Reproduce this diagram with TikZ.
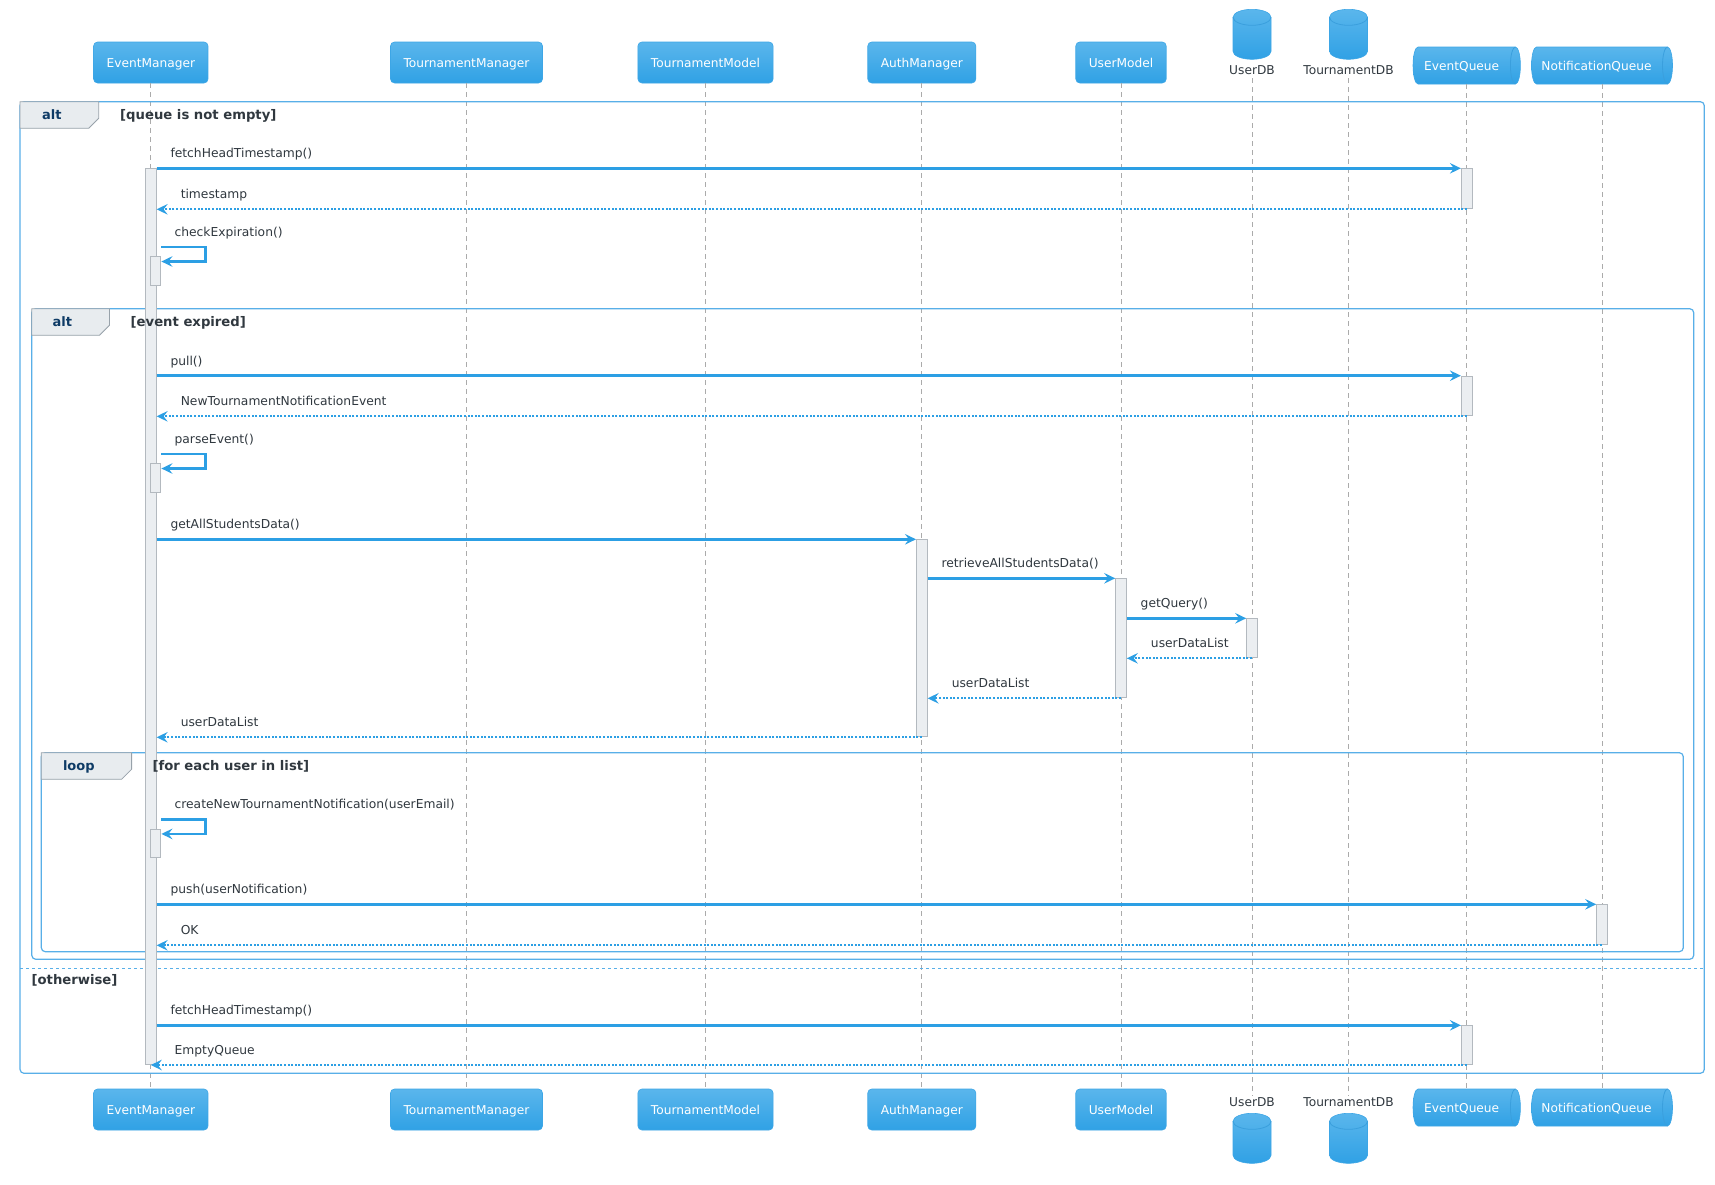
\documentclass[tikz,border=0pt]{standalone}
\usepackage{fontspec}
\setmainfont{DejaVu Sans}
\usetikzlibrary{arrows.meta,calc}
\definecolor{arrowc}{HTML}{2C9FE4}
\definecolor{framec}{HTML}{58AFE8}
\definecolor{parttop}{HTML}{5AB6EC}
\definecolor{partbot}{HTML}{30A1E5}
\definecolor{partborder}{HTML}{3DA6E6}
\definecolor{dbarc}{HTML}{3A9FDD}
\definecolor{actfill}{HTML}{EBEEF1}
\definecolor{actdraw}{HTML}{B3B9BF}
\definecolor{tabfill}{HTML}{E8ECEF}
\definecolor{tabdraw}{HTML}{98A2AA}
\definecolor{lifec}{HTML}{ABABAB}
\definecolor{txt}{HTML}{30383F}
\definecolor{kw}{HTML}{0E3B66}
\newcommand\dbicon[2]{%
  \path[top color=parttop,bottom color=partbot,draw=partborder,line width=0.6pt]
   (#1-19,#2+8) .. controls (#1-19,#2+3.58) and (#1-10.49,#2) .. (#1,#2)
   .. controls (#1+10.49,#2) and (#1+19,#2+3.58) .. (#1+19,#2+8)
   -- (#1+19,#2+42) .. controls (#1+19,#2+46.42) and (#1+10.49,#2+50) .. (#1,#2+50)
   .. controls (#1-10.49,#2+50) and (#1-19,#2+46.42) .. (#1-19,#2+42) -- cycle;
  \draw[dbarc,line width=0.8pt] (#1-19,#2+8) .. controls (#1-19,#2+12.42) and (#1-10.49,#2+16) .. (#1,#2+16)
   .. controls (#1+10.49,#2+16) and (#1+19,#2+12.42) .. (#1+19,#2+8);
}
\newcommand\queueicon[3]{%
  \path[top color=parttop,bottom color=partbot,draw=partborder,line width=0.6pt]
   (#1-#3/2+5,#2-18.5) -- (#1+#3/2-5,#2-18.5)
   .. controls (#1+#3/2-2.24,#2-18.5) and (#1+#3/2,#2-10.22) .. (#1+#3/2,#2)
   .. controls (#1+#3/2,#2+10.22) and (#1+#3/2-2.24,#2+18.5) .. (#1+#3/2-5,#2+18.5)
   -- (#1-#3/2+5,#2+18.5)
   .. controls (#1-#3/2+2.24,#2+18.5) and (#1-#3/2,#2+10.22) .. (#1-#3/2,#2)
   .. controls (#1-#3/2,#2-10.22) and (#1-#3/2+2.24,#2-18.5) .. (#1-#3/2+5,#2-18.5) -- cycle;
  \draw[dbarc,line width=0.8pt] (#1+#3/2-5,#2-18.5)
   .. controls (#1+#3/2-7.76,#2-18.5) and (#1+#3/2-10,#2-10.22) .. (#1+#3/2-10,#2)
   .. controls (#1+#3/2-10,#2+10.22) and (#1+#3/2-7.76,#2+18.5) .. (#1+#3/2-5,#2+18.5);
}
\newcommand\fragtab[4]{\filldraw[tabst] (#1,#2) -- (#3,#2) -- (#3,#4-10) -- (#3-10,#4) -- (#1,#4) -- cycle;}
\begin{document}
\begin{tikzpicture}[x=1pt,y=-1pt,
  partbox/.style={rectangle,rounded corners=4pt,top color=parttop,bottom color=partbot,draw=partborder,line width=0.6pt,text=white,font=\fontsize{12.2}{14}\selectfont,inner xsep=13pt,inner ysep=0pt,minimum height=41pt,text height=9.4pt,text depth=0pt},
  qlab/.style={rectangle,text=white,font=\fontsize{12.2}{14}\selectfont,inner sep=0pt,minimum height=37pt,text height=9.4pt,text depth=0pt},
  dblab/.style={text=txt,font=\fontsize{12.2}{14}\selectfont,inner sep=1pt,text height=9pt,text depth=2.4pt},
  life/.style={draw=lifec,line width=1pt,dash pattern=on 5pt off 4pt},
  act/.style={rectangle,fill=actfill,draw=actdraw,line width=1pt,minimum width=10.6pt,inner sep=0pt,anchor=north},
  msg/.style={draw=arrowc,line width=2.6pt,-{Stealth[length=11pt,width=10.5pt,inset=4pt]}},
  ret/.style={draw=arrowc,line width=2.3pt,dash pattern=on 2pt off 1.6pt,-{Stealth[length=11pt,width=10.5pt,inset=4pt]}},
  mlab/.style={anchor=base west,inner sep=0pt,text=txt,font=\fontsize{12.3}{14}\selectfont,yshift=10.5pt},
  fragframe/.style={draw=framec,line width=1.2pt,rounded corners=4pt},
  tabst/.style={fill=tabfill,draw=tabdraw,line width=0.8pt},
  kwlab/.style={anchor=base west,inner sep=0pt,text=kw,font=\fontsize{13}{15}\selectfont\bfseries},
  guard/.style={anchor=base west,inner sep=0pt,text=txt,font=\fontsize{13.2}{15}\selectfont\bfseries},
  altsep/.style={draw=framec,line width=1pt,dash pattern=on 3pt off 3pt},
]
\fill[white] (0,0) rectangle (1715,1184);
\useasboundingbox (0,0) rectangle (1715,1184);

% ---------- participants (top) ----------
\node[partbox] (pEM) at (150.8,62.5) {EventManager};
\node[partbox] (pTMg) at (466.5,62.5) {TournamentManager};
\node[partbox] (pTMo) at (705.5,62.5) {TournamentModel};
\node[partbox] (pAM) at (921.8,62.5) {AuthManager};
\node[partbox] (pUM) at (1121,62.5) {UserModel};
\dbicon{1252}{9.3}
\node[dblab] (pUDB) at (1252,71.5) {UserDB};
\dbicon{1348.5}{9.3}
\node[dblab] (pTDB) at (1348.5,71.5) {TournamentDB};
\queueicon{1466.7}{65.5}{107.4}
\node[qlab,minimum width=107.4pt] (pEQ) at (1466.7,65.5) {EventQueue\kern10pt};
\queueicon{1602}{65.5}{141}
\node[qlab,minimum width=141pt] (pNQ) at (1602,65.5) {NotificationQueue\kern11pt};

% ---------- participants (bottom) ----------
\node[partbox] (pEMb) at (150.8,1109.5) {EventManager};
\node[partbox] (pTMgb) at (466.5,1109.5) {TournamentManager};
\node[partbox] (pTMob) at (705.5,1109.5) {TournamentModel};
\node[partbox] (pAMb) at (921.8,1109.5) {AuthManager};
\node[partbox] (pUMb) at (1121,1109.5) {UserModel};
\node[dblab] (pUDBb) at (1252,1102.8) {UserDB};
\dbicon{1252}{1113.3}
\node[dblab] (pTDBb) at (1348.5,1102.8) {TournamentDB};
\dbicon{1348.5}{1113.3}
\queueicon{1466.7}{1107.5}{107.4}
\node[qlab,minimum width=107.4pt] (pEQb) at (1466.7,1107.5) {EventQueue\kern10pt};
\queueicon{1602}{1107.5}{141}
\node[qlab,minimum width=141pt] (pNQb) at (1602,1107.5) {NotificationQueue\kern11pt};

% ---------- lifelines ----------
\draw[life] (pEM) -- (pEMb);
\draw[life] (pTMg) -- (pTMgb);
\draw[life] (pTMo) -- (pTMob);
\draw[life] (pAM) -- (pAMb);
\draw[life] (pUM) -- (pUMb);
\draw[life] (pUDB) -- (pUDBb);
\draw[life] (pTDB) -- (pTDBb);
\draw[life] (pEQ) -- (pEQb);
\draw[life] (pNQ) -- (pNQb);

% ---------- fragments ----------
\draw[fragframe] (20,101.7) rectangle (1704.3,1073.3);
\fragtab{20}{101.7}{98.7}{128.3}
\draw[fragframe] (31.8,308.7) rectangle (1693.7,959.3);
\fragtab{31.8}{308.7}{109.5}{335.3}
\draw[fragframe] (41.3,752.7) rectangle (1683.3,951.7);
\fragtab{41.3}{752.7}{131.6}{779.3}
\draw[altsep] (20,968.3) -- (1704.3,968.3);

% ---------- activations ----------
\node[act,minimum height=895.7pt] (aEM) at (150.8,168.3) {};
\node[act,minimum height=40pt] (aEQ1) at (1466.7,168.3) {};
\node[act,minimum height=29pt] (aEM2) at (155.6,256.3) {};
\node[act,minimum height=39.6pt] (aEQ2) at (1466.7,375.7) {};
\node[act,minimum height=29pt] (aEM3) at (155.6,463.3) {};
\node[act,minimum height=197pt] (aAM) at (921.8,539.3) {};
\node[act,minimum height=119pt] (aUM) at (1121,578.3) {};
\node[act,minimum height=39pt] (aUDB) at (1252,618.3) {};
\node[act,minimum height=28.6pt] (aEM4) at (155.6,828.7) {};
\node[act,minimum height=40pt] (aNQ) at (1602,904.3) {};
\node[act,minimum height=38.7pt] (aEQ3) at (1466.7,1025.3) {};

% ---------- messages ----------
\draw[msg] (aEM.north east) -- (aEQ1.north west) node[mlab,pos=0,xshift=12.6pt] {fetchHeadTimestamp()};
\draw[ret] (aEQ1.south) -- (aEM.east |- aEQ1.south) node[mlab,pos=1,xshift=23pt] {timestamp};
\draw[msg] ($(aEM2.north east)+(0,-9.3)$) -| ($(aEM2.north east)+(44.3,5.2)$) -- ($(aEM2.north east)+(0,5.2)$);
\node[mlab,yshift=-10.5pt] (lChk) at ($(aEM2.north east)+(13,-19.8)$) {checkExpiration()};

\draw[msg] (aEM.east |- aEQ2.north) -- (aEQ2.north west) node[mlab,pos=0,xshift=12.6pt] {pull()};
\draw[ret] (aEQ2.south) -- (aEM.east |- aEQ2.south) node[mlab,pos=1,xshift=23pt] {NewTournamentNotificationEvent};
\draw[msg] ($(aEM3.north east)+(0,-9.3)$) -| ($(aEM3.north east)+(44.3,5.2)$) -- ($(aEM3.north east)+(0,5.2)$);
\node[mlab,yshift=-10.5pt] (lParse) at ($(aEM3.north east)+(13,-19.8)$) {parseEvent()};

\draw[msg] (aEM.east |- aAM.north) -- (aAM.north west) node[mlab,pos=0,xshift=12.6pt] {getAllStudentsData()};
\draw[msg] (aAM.east |- aUM.north) -- (aUM.north west) node[mlab,pos=0,xshift=12.6pt] {retrieveAllStudentsData()};
\draw[msg] (aUM.east |- aUDB.north) -- (aUDB.north west) node[mlab,pos=0,xshift=12.6pt] {getQuery()};
\draw[ret] (aUDB.south) -- (aUM.east |- aUDB.south) node[mlab,pos=1,xshift=23pt] {userDataList};
\draw[ret] (aUM.south) -- (aAM.east |- aUM.south) node[mlab,pos=1,xshift=23pt] {userDataList};
\draw[ret] (aAM.south) -- (aEM.east |- aAM.south) node[mlab,pos=1,xshift=23pt] {userDataList};

\draw[msg] ($(aEM4.north east)+(0,-9.3)$) -| ($(aEM4.north east)+(44.3,5.2)$) -- ($(aEM4.north east)+(0,5.2)$);
\node[mlab,yshift=-10.5pt] (lCreate) at ($(aEM4.north east)+(13,-19.8)$) {createNewTournamentNotification(userEmail)};
\draw[msg] (aEM.east |- aNQ.north) -- (aNQ.north west) node[mlab,pos=0,xshift=12.6pt] {push(userNotification)};
\draw[ret] (aNQ.south) -- (aEM.east |- aNQ.south) node[mlab,pos=1,xshift=23pt] {OK};

\draw[msg] (aEM.east |- aEQ3.north) -- (aEQ3.north west) node[mlab,pos=0,xshift=12.6pt] {fetchHeadTimestamp()};
\draw[ret] (aEQ3.south) -- (aEM.south) node[mlab,pos=1,xshift=22.7pt] {EmptyQueue};

% ---------- fragment labels ----------
\node[kwlab] (kAlt1) at (42,119.2) {alt};
\node[guard] (gAlt1) at (120,119.2) {[queue is not empty]};
\node[kwlab] (kAlt2) at (52.4,326.2) {alt};
\node[guard] (gAlt2) at (130.5,326.2) {[event expired]};
\node[kwlab] (kLoop) at (62.8,770.2) {loop};
\node[guard] (gLoop) at (152.3,770.2) {[for each user in list]};
\node[guard] (gElse) at (31.4,984) {[otherwise]};
\end{tikzpicture}
\end{document}
